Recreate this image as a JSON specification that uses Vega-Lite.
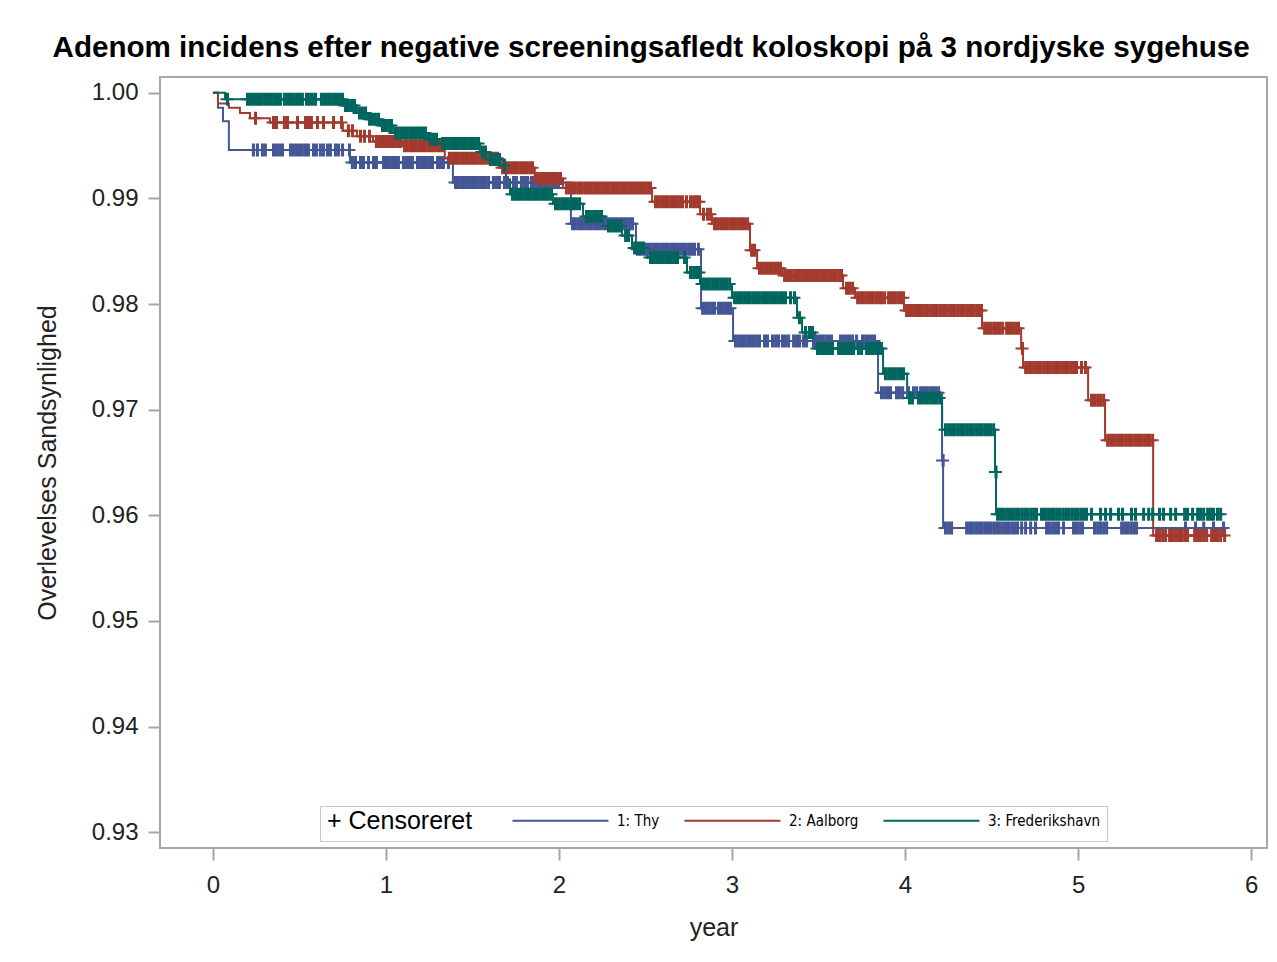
{
  "$schema": "https://vega.github.io/schema/vega-lite/v6.json",
  "width": 1107,
  "height": 771,
  "autosize": {"type": "none"},
  "padding": {"left": 160, "top": 77, "right": 10, "bottom": 114},
  "background": "white",
  "title": {
    "text": "Adenom incidens efter negative screeningsafledt koloskopi på 3 nordjyske sygehuse",
    "font": "Liberation Sans",
    "fontSize": 29.6,
    "fontWeight": "bold",
    "color": "#000000",
    "anchor": "middle",
    "frame": "bounds",
    "offset": 13
  },
  "datasets": {
    "steps": [
      {"g": "1: Thy", "t": 0, "s": 1},
      {"g": "1: Thy", "t": 0.029, "s": 0.9986},
      {"g": "1: Thy", "t": 0.058, "s": 0.9973},
      {"g": "1: Thy", "t": 0.092, "s": 0.9946},
      {"g": "1: Thy", "t": 0.792, "s": 0.9934},
      {"g": "1: Thy", "t": 1.387, "s": 0.9915},
      {"g": "1: Thy", "t": 2.069, "s": 0.9876},
      {"g": "1: Thy", "t": 2.445, "s": 0.9852},
      {"g": "1: Thy", "t": 2.821, "s": 0.9796},
      {"g": "1: Thy", "t": 3.006, "s": 0.9765},
      {"g": "1: Thy", "t": 3.844, "s": 0.9716},
      {"g": "1: Thy", "t": 4.214, "s": 0.9652},
      {"g": "1: Thy", "t": 4.22, "s": 0.9588},
      {"g": "1: Thy", "t": 5.838, "s": 0.9588},
      {"g": "2: Aalborg", "t": 0, "s": 1},
      {"g": "2: Aalborg", "t": 0.029, "s": 0.999},
      {"g": "2: Aalborg", "t": 0.092, "s": 0.9986},
      {"g": "2: Aalborg", "t": 0.156, "s": 0.9981},
      {"g": "2: Aalborg", "t": 0.214, "s": 0.9976},
      {"g": "2: Aalborg", "t": 0.329, "s": 0.9972},
      {"g": "2: Aalborg", "t": 0.751, "s": 0.9964},
      {"g": "2: Aalborg", "t": 0.832, "s": 0.9959},
      {"g": "2: Aalborg", "t": 0.925, "s": 0.9954},
      {"g": "2: Aalborg", "t": 1.092, "s": 0.995},
      {"g": "2: Aalborg", "t": 1.34, "s": 0.9938},
      {"g": "2: Aalborg", "t": 1.66, "s": 0.9929},
      {"g": "2: Aalborg", "t": 1.86, "s": 0.9919},
      {"g": "2: Aalborg", "t": 2.023, "s": 0.991},
      {"g": "2: Aalborg", "t": 2.538, "s": 0.9897},
      {"g": "2: Aalborg", "t": 2.815, "s": 0.9885},
      {"g": "2: Aalborg", "t": 2.884, "s": 0.9876},
      {"g": "2: Aalborg", "t": 3.104, "s": 0.9851},
      {"g": "2: Aalborg", "t": 3.145, "s": 0.9834},
      {"g": "2: Aalborg", "t": 3.289, "s": 0.9827},
      {"g": "2: Aalborg", "t": 3.642, "s": 0.9815},
      {"g": "2: Aalborg", "t": 3.711, "s": 0.9806},
      {"g": "2: Aalborg", "t": 3.994, "s": 0.9794},
      {"g": "2: Aalborg", "t": 4.445, "s": 0.9777},
      {"g": "2: Aalborg", "t": 4.671, "s": 0.9758},
      {"g": "2: Aalborg", "t": 4.682, "s": 0.974},
      {"g": "2: Aalborg", "t": 5.058, "s": 0.9709},
      {"g": "2: Aalborg", "t": 5.156, "s": 0.9671},
      {"g": "2: Aalborg", "t": 5.434, "s": 0.9581},
      {"g": "2: Aalborg", "t": 5.844, "s": 0.9581},
      {"g": "3: Frederikshavn", "t": 0, "s": 1},
      {"g": "3: Frederikshavn", "t": 0.07, "s": 0.9994},
      {"g": "3: Frederikshavn", "t": 0.751, "s": 0.9988},
      {"g": "3: Frederikshavn", "t": 0.832, "s": 0.9981},
      {"g": "3: Frederikshavn", "t": 0.89, "s": 0.9975},
      {"g": "3: Frederikshavn", "t": 0.965, "s": 0.9969},
      {"g": "3: Frederikshavn", "t": 1.04, "s": 0.9962},
      {"g": "3: Frederikshavn", "t": 1.243, "s": 0.9956},
      {"g": "3: Frederikshavn", "t": 1.312, "s": 0.9952},
      {"g": "3: Frederikshavn", "t": 1.543, "s": 0.9944},
      {"g": "3: Frederikshavn", "t": 1.59, "s": 0.9937},
      {"g": "3: Frederikshavn", "t": 1.676, "s": 0.9931},
      {"g": "3: Frederikshavn", "t": 1.694, "s": 0.9918},
      {"g": "3: Frederikshavn", "t": 1.717, "s": 0.9904},
      {"g": "3: Frederikshavn", "t": 1.965, "s": 0.9895},
      {"g": "3: Frederikshavn", "t": 2.139, "s": 0.9883},
      {"g": "3: Frederikshavn", "t": 2.266, "s": 0.9874},
      {"g": "3: Frederikshavn", "t": 2.364, "s": 0.9865},
      {"g": "3: Frederikshavn", "t": 2.422, "s": 0.9853},
      {"g": "3: Frederikshavn", "t": 2.509, "s": 0.9844},
      {"g": "3: Frederikshavn", "t": 2.74, "s": 0.983},
      {"g": "3: Frederikshavn", "t": 2.815, "s": 0.9819},
      {"g": "3: Frederikshavn", "t": 3.0, "s": 0.9806},
      {"g": "3: Frederikshavn", "t": 3.376, "s": 0.9787},
      {"g": "3: Frederikshavn", "t": 3.405, "s": 0.9773},
      {"g": "3: Frederikshavn", "t": 3.48, "s": 0.9758},
      {"g": "3: Frederikshavn", "t": 3.873, "s": 0.9734},
      {"g": "3: Frederikshavn", "t": 4.012, "s": 0.9711},
      {"g": "3: Frederikshavn", "t": 4.214, "s": 0.9681},
      {"g": "3: Frederikshavn", "t": 4.52, "s": 0.9641},
      {"g": "3: Frederikshavn", "t": 4.526, "s": 0.9601},
      {"g": "3: Frederikshavn", "t": 5.832, "s": 0.9601}
    ],
    "censor": [
      {"g": "1: Thy", "s": 0.9946, "t": [0.231,0.254,0.283,0.3,0.347,0.364,0.382,0.399,0.445,0.462,0.48,0.497,0.514,0.532,0.549,0.578,0.595,0.618,0.636,0.659,0.676,0.705,0.723,0.746,0.786]},
      {"g": "1: Thy", "s": 0.9934, "t": [0.803,0.821,0.85,0.867,0.896,0.925,0.942,0.983,1.0,1.017,1.035,1.052,1.069,1.098,1.116,1.133,1.15,1.179,1.197,1.214,1.231,1.249,1.266,1.295,1.312,1.329,1.358]},
      {"g": "1: Thy", "s": 0.9915, "t": [1.399,1.416,1.434,1.451,1.468,1.486,1.503,1.52,1.538,1.555,1.572,1.59,1.618,1.636,1.653,1.682,1.699,1.734,1.751,1.78,1.798,1.815,1.838,1.855,1.873,1.89,1.908,1.925,1.942,1.96,1.977,1.994]},
      {"g": "1: Thy", "s": 0.9876, "t": [2.075,2.092,2.11,2.127,2.144,2.162,2.179,2.197,2.214,2.231,2.249,2.266,2.283,2.301,2.318,2.335,2.353,2.37,2.387,2.405,2.422]},
      {"g": "1: Thy", "s": 0.9852, "t": [2.451,2.468,2.486,2.503,2.52,2.538,2.555,2.572,2.59,2.607,2.624,2.642,2.659,2.676,2.694,2.711,2.728,2.746,2.763,2.78,2.803]},
      {"g": "1: Thy", "s": 0.9796, "t": [2.827,2.844,2.861,2.879,2.896,2.919,2.936,2.954,2.971,2.988]},
      {"g": "1: Thy", "s": 0.9765, "t": [3.017,3.035,3.052,3.069,3.087,3.104,3.121,3.139,3.156,3.185,3.202,3.231,3.249,3.266,3.289,3.306,3.324,3.353,3.37,3.387,3.41,3.428,3.468,3.486,3.503,3.52,3.538,3.555,3.572,3.624,3.642,3.659,3.676,3.694,3.717,3.751,3.769,3.786,3.803,3.821]},
      {"g": "1: Thy", "s": 0.9716, "t": [3.861,3.879,3.896,3.913,3.948,3.965,3.983,4.017,4.046,4.064,4.087,4.104,4.121,4.139,4.156,4.173,4.191]},
      {"g": "1: Thy", "s": 0.9652, "t": [4.217]},
      {"g": "1: Thy", "s": 0.9588, "t": [4.231,4.249,4.266,4.353,4.37,4.387,4.405,4.422,4.439,4.457,4.474,4.491,4.509,4.526,4.543,4.561,4.578,4.595,4.613,4.63,4.647,4.671,4.694,4.723,4.751,4.815,4.832,4.85,4.867,4.884,4.913,4.971,4.988,5.006,5.023,5.092,5.11,5.127,5.145,5.162,5.249,5.266,5.283,5.301,5.318,5.335,5.618,5.676,5.723,5.78,5.838]},
      {"g": "2: Aalborg", "s": 0.9976, "t": [0.243]},
      {"g": "2: Aalborg", "s": 0.9972, "t": [0.347,0.364,0.41,0.428,0.486,0.532,0.549,0.566,0.601,0.636,0.694,0.74]},
      {"g": "2: Aalborg", "s": 0.9964, "t": [0.78,0.803]},
      {"g": "2: Aalborg", "s": 0.9959, "t": [0.85,0.873,0.902]},
      {"g": "2: Aalborg", "s": 0.9954, "t": [0.942,0.96,0.977,0.994,1.012,1.029,1.046,1.064,1.081]},
      {"g": "2: Aalborg", "s": 0.995, "t": [1.104,1.121,1.139,1.156,1.173,1.191,1.208,1.225,1.243,1.26,1.277,1.295,1.312,1.329]},
      {"g": "2: Aalborg", "s": 0.9938, "t": [1.364,1.382,1.399,1.416,1.434,1.451,1.468,1.486,1.503,1.52,1.538,1.555,1.572,1.59,1.607,1.624,1.642]},
      {"g": "2: Aalborg", "s": 0.9929, "t": [1.671,1.688,1.705,1.723,1.74,1.757,1.775,1.792,1.809,1.827,1.844]},
      {"g": "2: Aalborg", "s": 0.9919, "t": [1.867,1.884,1.902,1.919,1.936,1.954,1.971,1.988,2.006]},
      {"g": "2: Aalborg", "s": 0.991, "t": [2.04,2.058,2.075,2.092,2.11,2.127,2.145,2.162,2.179,2.197,2.214,2.231,2.249,2.266,2.283,2.301,2.318,2.335,2.353,2.37,2.387,2.405,2.422,2.439,2.457,2.474,2.491,2.509,2.526]},
      {"g": "2: Aalborg", "s": 0.9897, "t": [2.555,2.572,2.59,2.607,2.624,2.642,2.659,2.676,2.694,2.711,2.734,2.757,2.775,2.792,2.809]},
      {"g": "2: Aalborg", "s": 0.9885, "t": [2.832,2.855,2.873]},
      {"g": "2: Aalborg", "s": 0.9876, "t": [2.896,2.913,2.931,2.948,2.965,2.983,3.0,3.017,3.035,3.052,3.069,3.087]},
      {"g": "2: Aalborg", "s": 0.9851, "t": [3.11,3.127]},
      {"g": "2: Aalborg", "s": 0.9834, "t": [3.156,3.173,3.191,3.208,3.225,3.243,3.26,3.277]},
      {"g": "2: Aalborg", "s": 0.9827, "t": [3.301,3.318,3.335,3.353,3.37,3.387,3.405,3.422,3.439,3.457,3.474,3.491,3.509,3.526,3.543,3.561,3.578,3.595,3.613,3.63]},
      {"g": "2: Aalborg", "s": 0.9815, "t": [3.659,3.676,3.694]},
      {"g": "2: Aalborg", "s": 0.9806, "t": [3.723,3.74,3.757,3.775,3.792,3.809,3.827,3.844,3.861,3.879,3.902,3.919,3.936,3.954,3.971,3.988]},
      {"g": "2: Aalborg", "s": 0.9794, "t": [4.006,4.023,4.04,4.058,4.075,4.092,4.11,4.127,4.145,4.162,4.179,4.197,4.214,4.231,4.249,4.266,4.283,4.301,4.318,4.335,4.353,4.37,4.387,4.405,4.422,4.439]},
      {"g": "2: Aalborg", "s": 0.9777, "t": [4.457,4.474,4.491,4.509,4.526,4.543,4.561,4.584,4.601,4.618,4.636,4.653]},
      {"g": "2: Aalborg", "s": 0.9758, "t": [4.676]},
      {"g": "2: Aalborg", "s": 0.974, "t": [4.694,4.711,4.728,4.746,4.763,4.78,4.798,4.815,4.832,4.85,4.867,4.884,4.902,4.919,4.936,4.954,4.971,4.988,5.017,5.04]},
      {"g": "2: Aalborg", "s": 0.9709, "t": [5.075,5.092,5.11,5.127,5.145]},
      {"g": "2: Aalborg", "s": 0.9671, "t": [5.168,5.185,5.202,5.22,5.237,5.254,5.272,5.289,5.306,5.324,5.341,5.358,5.376,5.393,5.41,5.428]},
      {"g": "2: Aalborg", "s": 0.9581, "t": [5.451,5.468,5.486,5.503,5.526,5.543,5.561,5.578,5.595,5.613,5.63,5.671,5.688,5.705,5.723,5.74,5.769,5.786,5.803,5.821,5.844]},
      {"g": "3: Frederikshavn", "s": 0.9994, "t": [0.081,0.197,0.214,0.231,0.249,0.266,0.283,0.301,0.318,0.335,0.353,0.37,0.387,0.41,0.428,0.445,0.462,0.48,0.497,0.514,0.538,0.555,0.572,0.59,0.624,0.642,0.659,0.676,0.694,0.711,0.728,0.746]},
      {"g": "3: Frederikshavn", "s": 0.9988, "t": [0.763,0.78,0.798,0.815]},
      {"g": "3: Frederikshavn", "s": 0.9981, "t": [0.844,0.861,0.879]},
      {"g": "3: Frederikshavn", "s": 0.9975, "t": [0.902,0.919,0.936,0.954]},
      {"g": "3: Frederikshavn", "s": 0.9969, "t": [0.977,0.994,1.012,1.029]},
      {"g": "3: Frederikshavn", "s": 0.9962, "t": [1.052,1.069,1.087,1.104,1.121,1.139,1.156,1.173,1.191,1.208,1.225]},
      {"g": "3: Frederikshavn", "s": 0.9956, "t": [1.254,1.272,1.289]},
      {"g": "3: Frederikshavn", "s": 0.9952, "t": [1.324,1.341,1.358,1.376,1.393,1.41,1.428,1.445,1.462,1.48,1.497,1.514,1.532]},
      {"g": "3: Frederikshavn", "s": 0.9944, "t": [1.555,1.572]},
      {"g": "3: Frederikshavn", "s": 0.9937, "t": [1.601,1.618,1.636,1.653]},
      {"g": "3: Frederikshavn", "s": 0.9931, "t": [1.682]},
      {"g": "3: Frederikshavn", "s": 0.9904, "t": [1.728,1.746,1.763,1.78,1.798,1.815,1.832,1.85,1.867,1.884,1.902,1.919,1.936,1.954]},
      {"g": "3: Frederikshavn", "s": 0.9895, "t": [1.977,1.994,2.012,2.029,2.046,2.064,2.081,2.098,2.116]},
      {"g": "3: Frederikshavn", "s": 0.9883, "t": [2.156,2.173,2.191,2.208,2.225,2.243]},
      {"g": "3: Frederikshavn", "s": 0.9874, "t": [2.283,2.301,2.318,2.335,2.353]},
      {"g": "3: Frederikshavn", "s": 0.9865, "t": [2.382,2.399]},
      {"g": "3: Frederikshavn", "s": 0.9853, "t": [2.434,2.451,2.468,2.486]},
      {"g": "3: Frederikshavn", "s": 0.9844, "t": [2.526,2.543,2.561,2.578,2.595,2.613,2.63,2.647,2.665,2.682,2.723]},
      {"g": "3: Frederikshavn", "s": 0.983, "t": [2.757,2.775,2.792,2.809]},
      {"g": "3: Frederikshavn", "s": 0.9819, "t": [2.827,2.844,2.861,2.879,2.896,2.913,2.931,2.948,2.965,2.983]},
      {"g": "3: Frederikshavn", "s": 0.9806, "t": [3.012,3.029,3.046,3.064,3.081,3.098,3.116,3.133,3.15,3.168,3.185,3.202,3.22,3.237,3.254,3.272,3.289,3.306,3.335,3.358]},
      {"g": "3: Frederikshavn", "s": 0.9787, "t": [3.387]},
      {"g": "3: Frederikshavn", "s": 0.9773, "t": [3.422,3.445,3.462]},
      {"g": "3: Frederikshavn", "s": 0.9758, "t": [3.491,3.509,3.526,3.543,3.561,3.578,3.613,3.63,3.647,3.665,3.682,3.699,3.728,3.746,3.775,3.792,3.809,3.827,3.844,3.861]},
      {"g": "3: Frederikshavn", "s": 0.9734, "t": [3.884,3.902,3.919,3.936,3.954,3.971,3.988]},
      {"g": "3: Frederikshavn", "s": 0.9711, "t": [4.023,4.04,4.075,4.092,4.11,4.127,4.145,4.162,4.179,4.197]},
      {"g": "3: Frederikshavn", "s": 0.9681, "t": [4.231,4.249,4.266,4.283,4.301,4.318,4.335,4.353,4.37,4.387,4.405,4.422,4.439,4.457,4.474,4.491,4.509]},
      {"g": "3: Frederikshavn", "s": 0.9641, "t": [4.523]},
      {"g": "3: Frederikshavn", "s": 0.9601, "t": [4.532,4.549,4.566,4.584,4.601,4.618,4.636,4.653,4.671,4.688,4.705,4.723,4.74,4.757,4.786,4.803,4.821,4.838,4.855,4.873,4.89,4.908,4.925,4.942,4.96,4.977,4.994,5.012,5.029,5.046,5.075,5.127,5.156,5.185,5.231,5.254,5.306,5.329,5.376,5.405,5.428,5.468,5.491,5.532,5.561,5.613,5.63,5.659,5.688,5.705,5.723,5.746,5.763,5.78,5.803,5.821]}
    ]
  },
  "layer": [
    {
      "data": {"name": "steps"},
      "mark": {"type": "line", "interpolate": "step-after", "strokeWidth": 2},
      "encoding": {
        "x": {
          "field": "t", "type": "quantitative",
          "scale": {"domain": [-0.306, 6.092], "nice": false, "zero": false},
          "axis": {"title": "year", "values": [0, 1, 2, 3, 4, 5, 6], "format": "d"}
        },
        "y": {
          "field": "s", "type": "quantitative",
          "scale": {"domain": [0.9285, 1.0015], "nice": false, "zero": false},
          "axis": {"title": "Overlevelses Sandsynlighed", "values": [0.93, 0.94, 0.95, 0.96, 0.97, 0.98, 0.99, 1.0], "format": ".2f"}
        },
        "color": {
          "field": "g", "type": "nominal",
          "scale": {"domain": ["1: Thy", "2: Aalborg", "3: Frederikshavn"], "range": ["#445694", "#A23A2E", "#01665E"]},
          "legend": {"title": "+ Censoreret"}
        }
      }
    },
    {
      "data": {"name": "censor"},
      "transform": [{"flatten": ["t"]}],
      "mark": {"type": "point", "shape": "M-1,0H1M0,-1V1M0.16,-1V1", "filled": false, "strokeWidth": 2, "size": 169, "opacity": 1},
      "encoding": {
        "x": {"field": "t", "type": "quantitative"},
        "y": {"field": "s", "type": "quantitative"},
        "stroke": {
          "field": "g", "type": "nominal",
          "scale": {"domain": ["1: Thy", "2: Aalborg", "3: Frederikshavn"], "range": ["#445694", "#A23A2E", "#01665E"]},
          "legend": null
        }
      }
    }
  ],
  "config": {
    "view": {"stroke": "#A3A8AC", "strokeWidth": 2},
    "axis": {
      "labelFont": "Liberation Sans",
      "labelFontSize": 24,
      "labelColor": "#222222",
      "titleFont": "Liberation Sans",
      "titleFontSize": 25,
      "titleFontWeight": "normal",
      "titleColor": "#222222",
      "tickColor": "#A3A8AC",
      "tickWidth": 2,
      "tickSize": 12,
      "domain": false,
      "grid": false
    },
    "axisX": {"labelPadding": 13, "titlePadding": 18, "labelAngle": 0},
    "axisY": {"labelPadding": 10, "titlePadding": 31},
    "legend": {
      "orient": "none",
      "legendX": 160,
      "legendY": 729,
      "direction": "horizontal",
      "titleOrient": "left",
      "titleFont": "Liberation Sans",
      "titleFontSize": 25,
      "titleFontWeight": "normal",
      "titleColor": "#000000",
      "titlePadding": 38,
      "symbolType": "M-1,0H15",
      "symbolSize": 144,
      "symbolStrokeWidth": 2,
      "labelFont": "DejaVu Sans Condensed, Liberation Sans",
      "labelFontSize": 15,
      "labelColor": "#000000",
      "labelOffset": 91,
      "labelLimit": 300,
      "columnPadding": 20,
      "padding": 7,
      "strokeColor": "#C8C8C8",
      "fillColor": "white"
    }
  }
}
